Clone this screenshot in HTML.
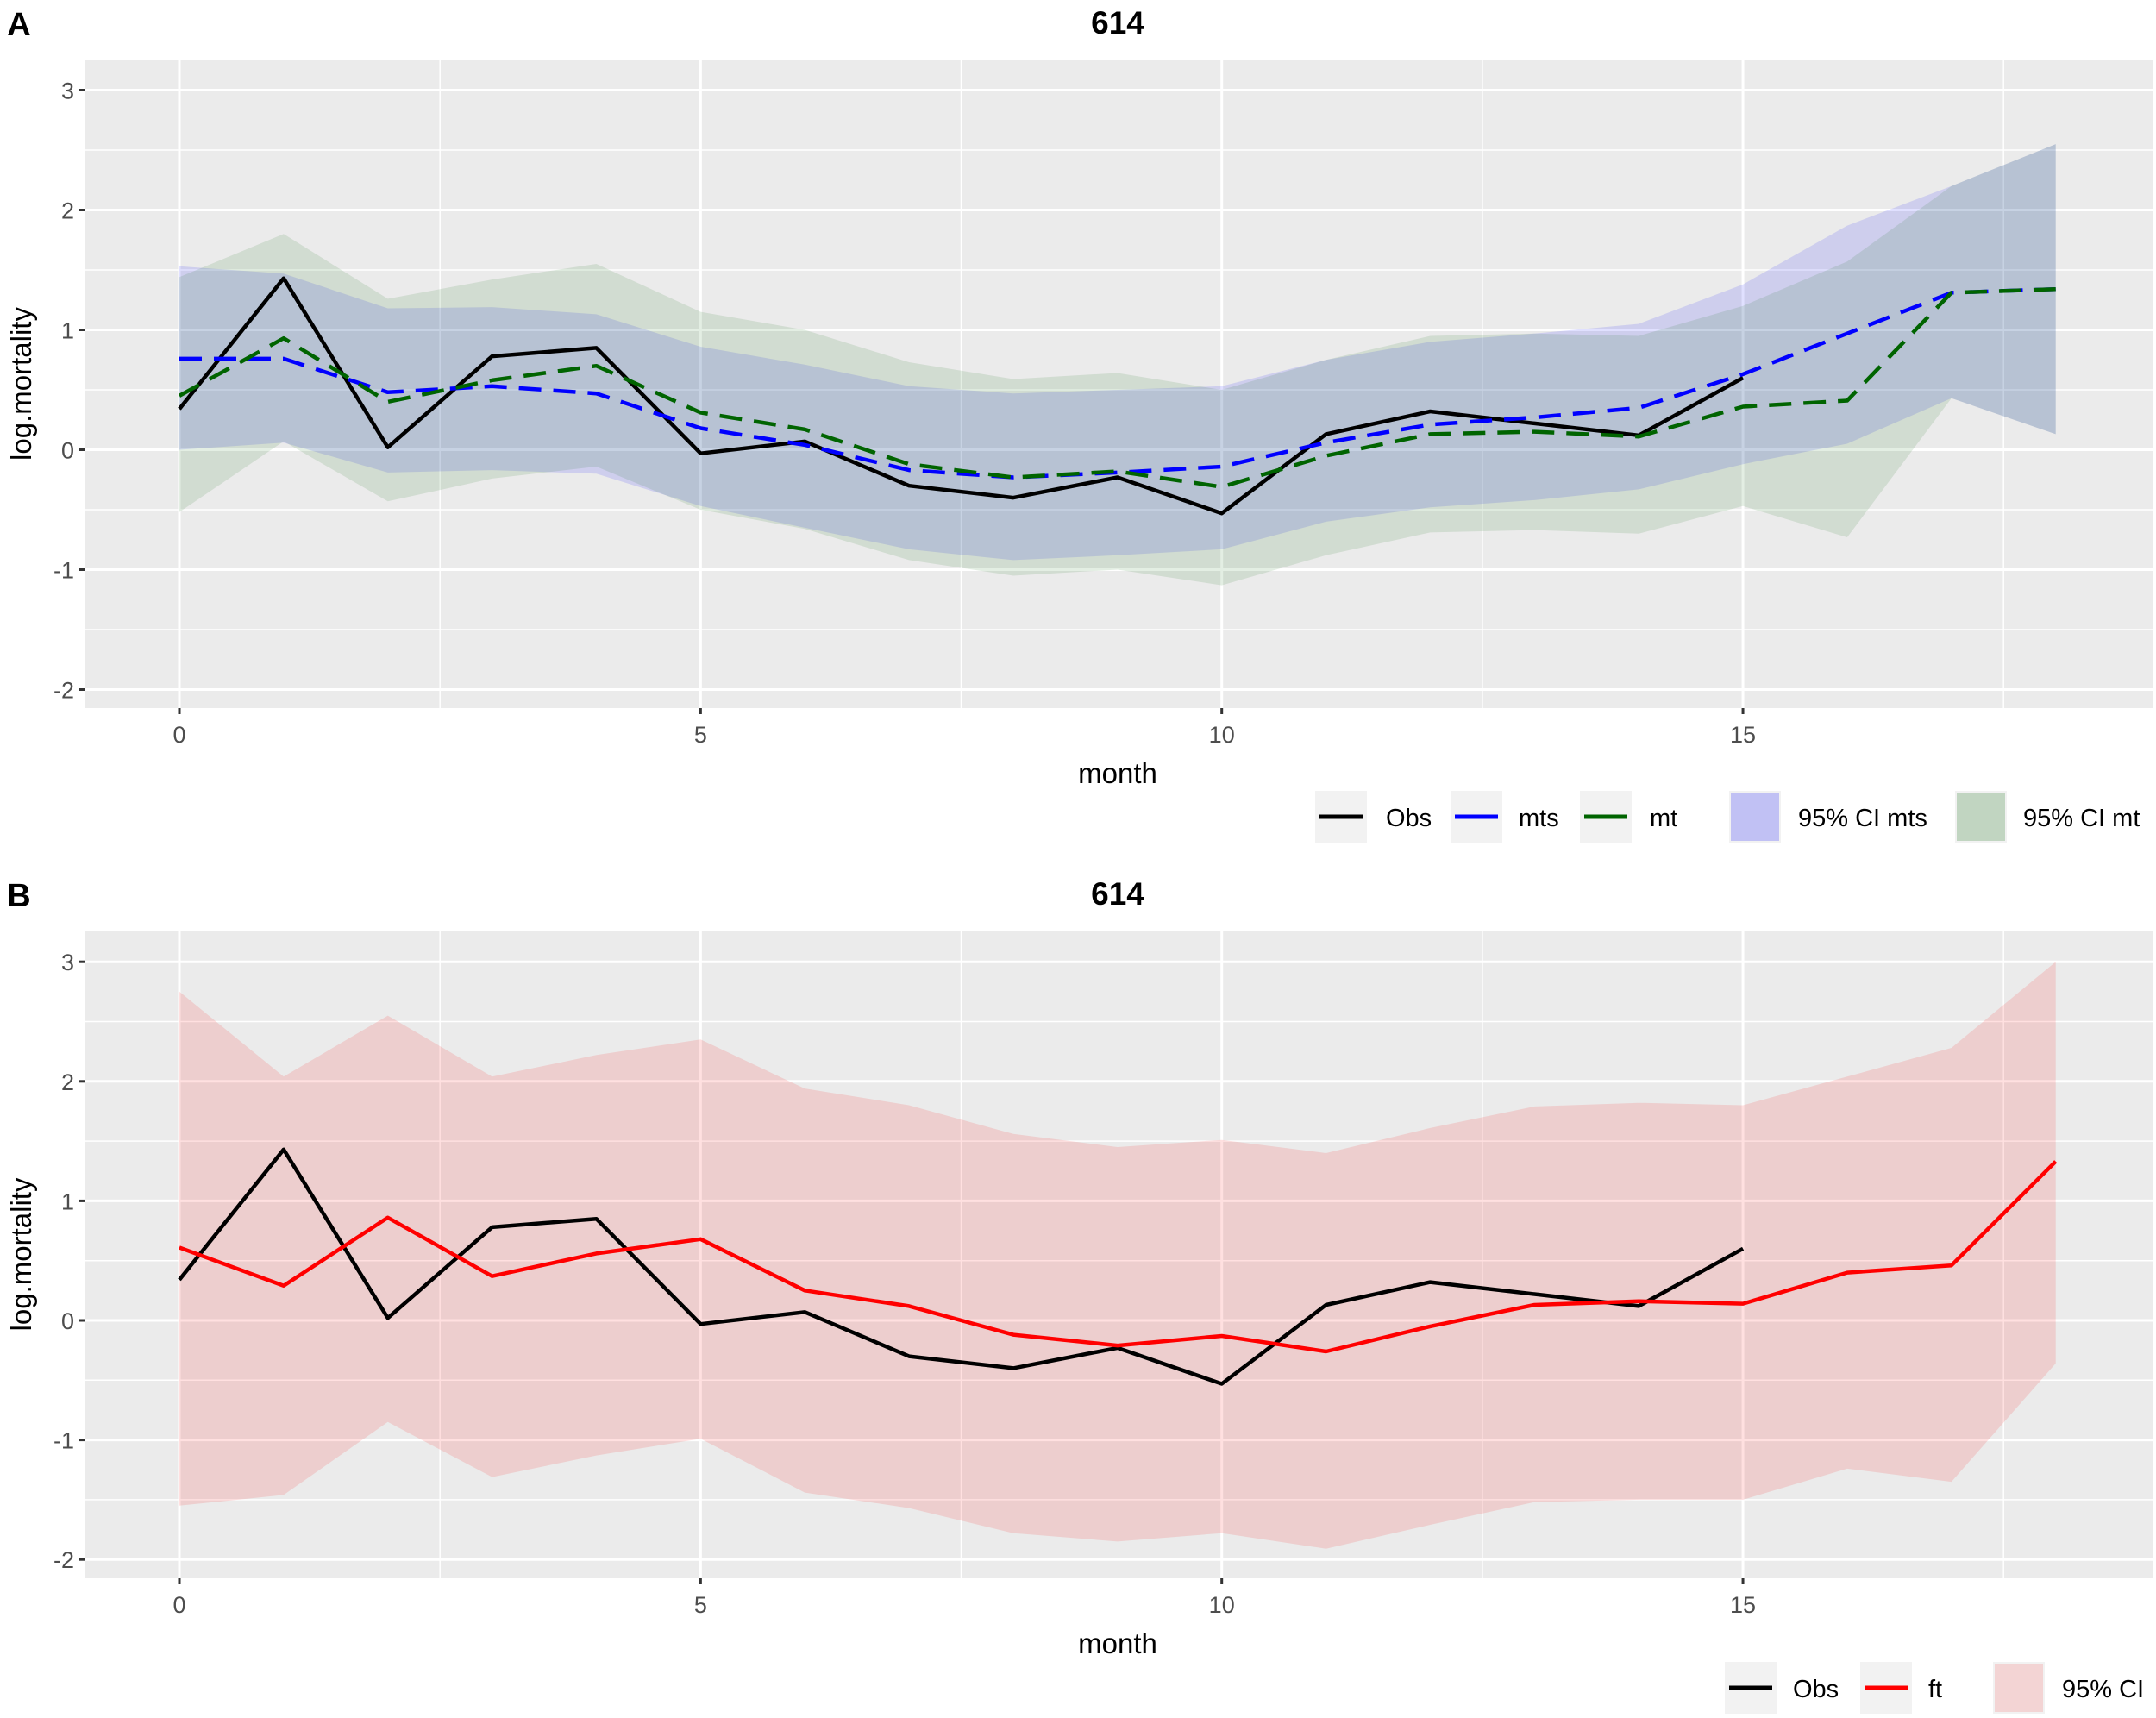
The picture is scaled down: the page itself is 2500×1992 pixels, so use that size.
<!DOCTYPE html>
<html><head><meta charset="utf-8"><style>
html,body{margin:0;padding:0;background:#fff;}
svg{display:block;font-family:"Liberation Sans",Arial,sans-serif;}
</style></head><body>
<svg id="chart" width="2500" height="1992" viewBox="0 0 2500 1992" xmlns="http://www.w3.org/2000/svg"></svg>
<script>
const months = [0,1,2,3,4,5,6,7,8,9,10,11,12,13,14,15,16,17,18];
const obsMonths = [0,1,2,3,4,5,6,7,8,9,10,11,12,13,14,15];
const obsValues = [0.34,1.43,0.02,0.78,0.85,-0.03,0.07,-0.30,-0.40,-0.23,-0.53,0.13,0.32,0.22,0.12,0.60];
const mtsValues = [0.76,0.76,0.48,0.53,0.47,0.18,0.04,-0.17,-0.23,-0.19,-0.14,0.06,0.21,0.27,0.35,0.63,0.97,1.31,1.34];
const mtValues = [0.45,0.93,0.40,0.58,0.70,0.31,0.17,-0.12,-0.23,-0.18,-0.31,-0.05,0.13,0.15,0.11,0.36,0.41,1.31,1.34];
const mtsUpper = [1.53,1.47,1.18,1.19,1.13,0.86,0.71,0.53,0.47,0.50,0.53,0.75,0.90,0.97,1.05,1.38,1.87,2.20,2.55];
const mtsLower = [0.00,0.06,-0.19,-0.17,-0.20,-0.47,-0.65,-0.83,-0.92,-0.88,-0.83,-0.60,-0.48,-0.42,-0.33,-0.12,0.05,0.43,0.13];
const mtUpper = [1.44,1.80,1.26,1.42,1.55,1.15,1.00,0.73,0.59,0.64,0.50,0.75,0.95,0.97,0.95,1.20,1.57,2.20,2.55];
const mtLower = [-0.52,0.07,-0.43,-0.24,-0.14,-0.50,-0.66,-0.92,-1.05,-1.00,-1.13,-0.88,-0.69,-0.67,-0.70,-0.47,-0.73,0.43,0.13];
const ftValues = [0.61,0.29,0.86,0.37,0.56,0.68,0.25,0.12,-0.12,-0.21,-0.13,-0.26,-0.05,0.13,0.16,0.14,0.40,0.46,1.33];
const ftUpper = [2.75,2.04,2.55,2.04,2.22,2.35,1.94,1.80,1.56,1.45,1.51,1.40,1.61,1.79,1.82,1.80,2.04,2.28,3.00];
const ftLower = [-1.55,-1.46,-0.85,-1.31,-1.13,-0.99,-1.44,-1.57,-1.78,-1.85,-1.78,-1.91,-1.71,-1.52,-1.50,-1.50,-1.24,-1.35,-0.36];
const xTicks = [0,5,10,15];
const yTicks = [-2,-1,0,1,2,3];

const NS = "http://www.w3.org/2000/svg";
const svg = document.getElementById('chart');
function mk(tag, attrs, parent){
  const e = document.createElementNS(NS, tag);
  for (const k in attrs) e.setAttribute(k, attrs[k]);
  (parent||svg).appendChild(e);
  return e;
}
const xScale = m => 208 + m * 120.87;

function panel(cfg){
  const g = mk('g', {});
  
  
  const yScale = v => cfg.y0 - v * cfg.unit;
  const bg = mk('rect', {x:99, y:cfg.top, width:2397, height:cfg.bottom-cfg.top, fill:'#EBEBEB'}, g);
  
  
  for (let m = 2.5; m <= 17.5; m += 5){
    const l = mk('line', {x1:xScale(m), x2:xScale(m), y1:cfg.top, y2:cfg.bottom, stroke:'#fff', 'stroke-width':1.5}, g);
    
    
  }
  for (let v = -1.5; v <= 2.5; v += 1){
    const l = mk('line', {x1:99, x2:2496, y1:yScale(v), y2:yScale(v), stroke:'#fff', 'stroke-width':1.5}, g);
    
    
  }
  xTicks.forEach(t => {
    const l = mk('line', {x1:xScale(t), x2:xScale(t), y1:cfg.top, y2:cfg.bottom, stroke:'#fff', 'stroke-width':3}, g);
    
    
    const tk = mk('line', {x1:xScale(t), x2:xScale(t), y1:cfg.bottom, y2:cfg.bottom+7, stroke:'#333', 'stroke-width':3}, g);
    
    
    const tx = mk('text', {x:xScale(t), y:cfg.bottom+40, 'text-anchor':'middle', 'font-size':27, fill:'#4D4D4D'}, g);
    tx.textContent = t;
    
    
  });
  yTicks.forEach(t => {
    const l = mk('line', {x1:99, x2:2496, y1:yScale(t), y2:yScale(t), stroke:'#fff', 'stroke-width':3}, g);
    
    
    const tk = mk('line', {x1:92, x2:99, y1:yScale(t), y2:yScale(t), stroke:'#333', 'stroke-width':3}, g);
    
    
    const tx = mk('text', {x:86, y:yScale(t)+10, 'text-anchor':'end', 'font-size':27, fill:'#4D4D4D'}, g);
    tx.textContent = t;
    
    
  });
  cfg.bands.forEach(b => {
    let d = '';
    months.forEach((m,i) => { d += (i ? 'L' : 'M') + xScale(m).toFixed(1) + ',' + yScale(b.upper[i]).toFixed(1); });
    for (let i = months.length-1; i >= 0; i--) d += 'L' + xScale(months[i]).toFixed(1) + ',' + yScale(b.lower[i]).toFixed(1);
    const p = mk('path', {d: d + 'Z', fill:b.color, 'fill-opacity':b.alpha}, g);
    
    
  });
  cfg.lines.forEach(s => {
    const pts = s.xs.map((m,i) => xScale(m).toFixed(1) + ',' + yScale(s.vals[i]).toFixed(1)).join(' ');
    const attrs = {points:pts, fill:'none', stroke:s.color, 'stroke-width':4.5, 'stroke-linejoin':'round'};
    if (s.dash) attrs['stroke-dasharray'] = s.dash;
    const p = mk('polyline', attrs, g);
    
    
  });
  const lbl = mk('text', {x:22, y:cfg.top-28, 'text-anchor':'middle', 'font-size':38, 'font-weight':'bold', fill:'#000'}, g);
  lbl.textContent = cfg.letter;
  
  
  const ti = mk('text', {x:1296, y:cfg.top-30, 'text-anchor':'middle', 'font-size':37, 'font-weight':'bold', fill:'#000'}, g);
  ti.textContent = '614';
  
  
  const xt = mk('text', {x:1296, y:cfg.bottom+87, 'text-anchor':'middle', 'font-size':33, fill:'#000'}, g);
  xt.textContent = 'month';
  
  
  const yc = (cfg.top+cfg.bottom)/2;
  const yt = mk('text', {x:0, y:0, transform:'translate(36,'+yc+') rotate(-90)', 'text-anchor':'middle', 'font-size':33, fill:'#000'}, g);
  yt.textContent = 'log.mortality';
  
  
  cfg.legend.forEach(it => {
    const lg = mk('g', {}, g);
    
    
    mk('rect', {x:it.x, y:cfg.legY-30, width:60, height:60, fill:'#F2F2F2'}, lg);
    if (it.fill) mk('rect', {x:it.x+2, y:cfg.legY-28, width:56, height:56, fill:it.fill, 'fill-opacity':it.alpha}, lg);
    else mk('line', {x1:it.x+5, x2:it.x+55, y1:cfg.legY, y2:cfg.legY, stroke:it.line, 'stroke-width':5}, lg);
    const t = mk('text', {x:it.tx, y:cfg.legY+11, 'font-size':29, fill:'#000'}, lg);
    t.textContent = it.label;
  });
}

panel({name:'panel-a', letter:'A', top:69, bottom:821, y0:521.5, unit:139.0, legY:947,
  bands:[
    {name:'ci-band-mts', upper:mtsUpper, lower:mtsLower, color:'#0000FF', alpha:0.12},
    {name:'ci-band-mt', upper:mtUpper, lower:mtLower, color:'#006400', alpha:0.11}
  ],
  lines:[
    {name:'line-obs', xs:obsMonths, vals:obsValues, color:'#000'},
    {name:'line-mts', xs:months, vals:mtsValues, color:'#0000FF', dash:'26 14'},
    {name:'line-mt', xs:months, vals:mtValues, color:'#006400', dash:'26 14'}
  ],
  legend:[
    {x:1525, tx:1607, label:'Obs', line:'#000'},
    {x:1682, tx:1761, label:'mts', line:'#0000FF'},
    {x:1832, tx:1913, label:'mt', line:'#006400'},
    {x:2005, tx:2085, label:'95% CI mts', fill:'#0000FF', alpha:0.2},
    {x:2267, tx:2346, label:'95% CI mt', fill:'#006400', alpha:0.2}
  ]});

panel({name:'panel-b', letter:'B', top:1079, bottom:1830, y0:1531, unit:138.6, legY:1957,
  bands:[
    {name:'ci-band-ft', upper:ftUpper, lower:ftLower, color:'#FF0000', alpha:0.12}
  ],
  lines:[
    {name:'line-obs', xs:obsMonths, vals:obsValues, color:'#000'},
    {name:'line-ft', xs:months, vals:ftValues, color:'#FF0000'}
  ],
  legend:[
    {x:2000, tx:2079, label:'Obs', line:'#000'},
    {x:2157, tx:2236, label:'ft', line:'#FF0000'},
    {x:2311, tx:2391, label:'95% CI', fill:'#FF0000', alpha:0.12}
  ]});
</script>
</body></html>
